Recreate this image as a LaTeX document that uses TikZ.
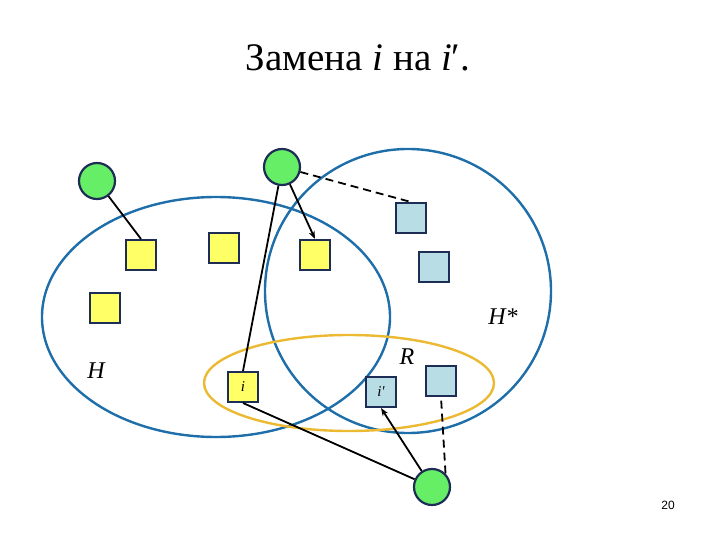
\documentclass[tikz,border=0pt]{standalone}
\usepackage{fontspec}
\setmainfont{Liberation Serif}
\newfontfamily\arialfont{Liberation Sans}
\usetikzlibrary{arrows.meta}
\definecolor{ellblue}{RGB}{30,110,170}
\definecolor{ellyel}{RGB}{235,185,50}
\definecolor{gfill}{RGB}{102,238,102}
\definecolor{navy}{RGB}{30,45,85}
\definecolor{yfill}{RGB}{255,255,102}
\definecolor{bfill}{RGB}{185,221,229}
\tikzset{
  circ/.style={circle,draw=navy,line width=2.2pt,fill=gfill,minimum size=36pt,inner sep=0pt},
  ysq/.style={rectangle,draw=navy,line width=2pt,fill=yfill,minimum size=30pt,inner sep=0pt},
  bsq/.style={rectangle,draw=navy,line width=2pt,fill=bfill,minimum size=30pt,inner sep=0pt},
  ell/.style={line width=2.4pt},
  conn/.style={line width=1.8pt,black},
  arr/.style={conn,-{Stealth[length=8pt,width=6pt]}},
  dconn/.style={conn,dash pattern=on 8pt off 5pt},
}
\begin{document}
\begin{tikzpicture}[x=1pt,y=-1pt]
\useasboundingbox (0,0) rectangle (720,540);
% title
\node[font=\fontsize{39}{42}\selectfont] (title) at (358,58) {Замена \textit{i} на \textit{i}′.};
% ellipses
\draw[ell,ellblue] (216,317) ellipse [x radius=174, y radius=120];
\draw[ell,ellblue] (408,291) ellipse [x radius=143, y radius=142];
\draw[ell,ellyel] (349,383) ellipse [x radius=145, y radius=48];
% squares
\node[ysq] (s1) at (141,255) {};
\node[ysq] (s2) at (224,248) {};
\node[ysq] (s3) at (315,255) {};
\node[ysq] (s4) at (105,308) {};
\node[ysq,font=\itshape\fontsize{15}{16}\selectfont] (si) at (243,387) {i};
\node[bsq] (b1) at (411,218) {};
\node[bsq] (b2) at (434,267) {};
\node[bsq,font=\itshape\fontsize{15}{16}\selectfont] (bi) at (381,392) {i\textquotesingle};
\node[bsq] (b4) at (441,381) {};
% circles
\node[circ] (c1) at (97,181) {};
\node[circ] (c2) at (282,167) {};
\node[circ] (c3) at (432,487) {};
% labels
\node[font=\itshape\fontsize{24}{26}\selectfont] (lH) at (96,371) {H};
\node[font=\itshape\fontsize{24}{26}\selectfont] (lHs) at (503,317) {H*};
\node[font=\itshape\fontsize{24}{26}\selectfont] (lR) at (407,357) {R};
\node[font=\arialfont\fontsize{12}{14}\selectfont] (num) at (668,505) {20};
% connectors
\draw[conn] (c1) -- (s1.north);
\draw[conn] (c2) -- (si.north);
\draw[arr] (c2) -- (s3.north);
\draw[dconn] (c2) -- (b1.north);
\draw[conn] (c3) -- (si.south);
\draw[arr] (c3) -- (bi.south);
\draw[dconn] (c3.north east) -- (b4.south);
\end{tikzpicture}
\end{document}
